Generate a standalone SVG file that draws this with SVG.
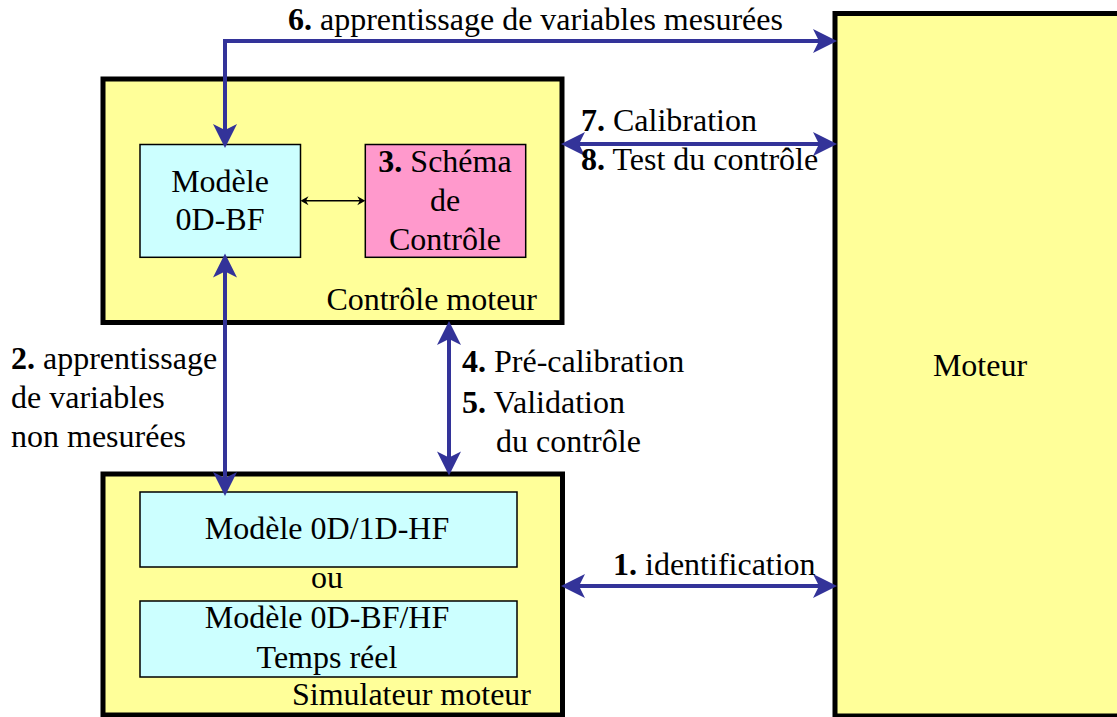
<svg xmlns="http://www.w3.org/2000/svg" width="1117" height="717" viewBox="0 0 1117 717">
<style>
text{font-family:"Liberation Serif","Times New Roman",serif;font-size:32px;fill:#000}
.b{font-weight:bold}
.m{text-anchor:middle}
.e{text-anchor:end}
.big{fill:#FFFF99;stroke:#000;stroke-width:5}
.cy{fill:#CCFFFF;stroke:#000;stroke-width:1.5}
.pk{fill:#FF99CC;stroke:#000;stroke-width:1.5}
.con{fill:none;stroke:#333399;stroke-width:4}
.thin{fill:none;stroke:#000;stroke-width:1.5}
</style>
<defs>
<marker id="ab" markerUnits="userSpaceOnUse" markerWidth="30" markerHeight="30" viewBox="-10 -10 20 20" refX="0" refY="0" orient="auto-start-reverse" overflow="visible">
<path d="M8,0 L-8,-8 L-4,0 L-8,8 Z" fill="#333399"/>
</marker>
<marker id="ak" markerUnits="userSpaceOnUse" markerWidth="20" markerHeight="20" viewBox="-10 -10 20 20" refX="0" refY="0" orient="auto-start-reverse" overflow="visible">
<path d="M3,0 L-5,-4.5 L-2.5,0 L-5,4.5 Z" fill="#000"/>
</marker>
</defs>

<g id="moteur">
<rect class="big" x="835" y="13.5" width="300" height="702.5"/>
<text class="m" x="980" y="376">Moteur</text>
</g>

<g id="controle-moteur">
<rect class="big" x="103" y="79" width="459" height="243.5"/>
<text class="e" x="537" y="310">Contrôle moteur</text>
</g>

<g id="modele-0d-bf">
<rect class="cy" x="140" y="144.5" width="160.5" height="112.8"/>
<text class="m" x="220" y="192">Modèle</text>
<text class="m" x="220" y="230">0D-BF</text>
</g>

<g id="schema-controle">
<rect class="pk" x="365.3" y="144.5" width="160.4" height="112.8"/>
<text class="m" x="445" y="172"><tspan class="b">3.</tspan> Schéma</text>
<text class="m" x="445" y="211">de</text>
<text class="m" x="445" y="250">Contrôle</text>
</g>

<g id="simulateur-moteur">
<rect class="big" x="103" y="474" width="459.5" height="241"/>
<text class="e" x="531" y="705">Simulateur moteur</text>
<text class="m" x="327" y="588">ou</text>
</g>

<g id="modele-0d1d-hf">
<rect class="cy" x="140" y="492" width="377" height="75"/>
<text class="m" x="327" y="539">Modèle 0D/1D-HF</text>
</g>

<g id="modele-0d-bf-hf">
<rect class="cy" x="140" y="601" width="377" height="76"/>
<text class="m" x="327" y="628">Modèle 0D-BF/HF</text>
<text class="m" x="327" y="668">Temps réel</text>
</g>

<g id="connectors">
<path class="con" d="M225,136 L225,41 L825,41" marker-start="url(#ab)" marker-end="url(#ab)"/>
<path class="con" d="M225,265.5 L225,484" marker-start="url(#ab)" marker-end="url(#ab)"/>
<path class="con" d="M449,333 L449,463.5" marker-start="url(#ab)" marker-end="url(#ab)"/>
<path class="con" d="M573,144 L825,144" marker-start="url(#ab)" marker-end="url(#ab)"/>
<path class="con" d="M573,586 L825,586" marker-start="url(#ab)" marker-end="url(#ab)"/>
<path class="thin" d="M303.5,200.7 L362.3,200.7" marker-start="url(#ak)" marker-end="url(#ak)"/>
<text x="288" y="30"><tspan class="b">6.</tspan> apprentissage de variables mesurées</text>
<text x="581" y="131"><tspan class="b">7.</tspan> Calibration</text>
<text x="581" y="170"><tspan class="b">8.</tspan> Test du contrôle</text>
<text x="11" y="369"><tspan class="b">2.</tspan> apprentissage</text>
<text x="11" y="408">de variables</text>
<text x="11" y="447">non mesurées</text>
<text x="462" y="372"><tspan class="b">4.</tspan> Pré-calibration</text>
<text x="462" y="413"><tspan class="b">5.</tspan> Validation</text>
<text x="496" y="452">du contrôle</text>
<text x="613" y="575"><tspan class="b">1.</tspan> identification</text>
</g>
</svg>
